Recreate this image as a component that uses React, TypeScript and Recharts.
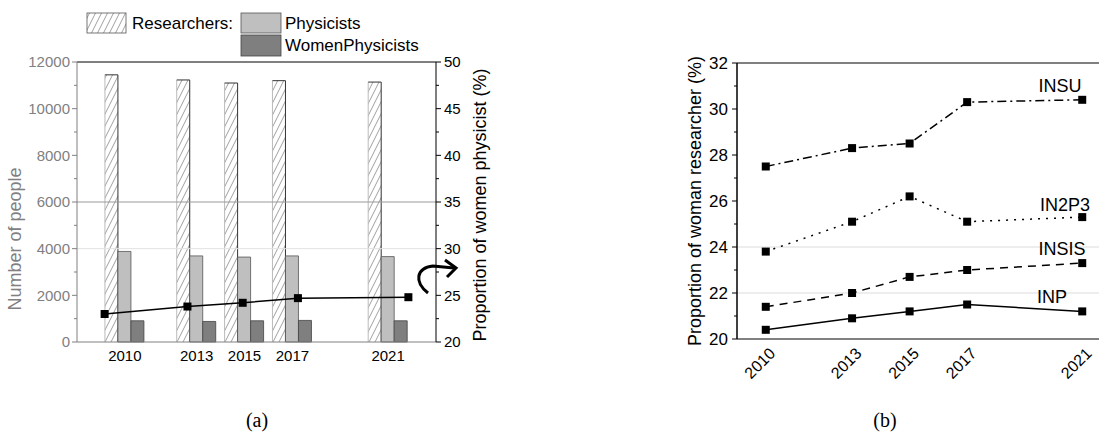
import React from "react";
import {
  ComposedChart,
  LineChart,
  Bar,
  Line,
  XAxis,
  YAxis,
  ReferenceLine,
} from "recharts";

const years = [2010, 2013, 2015, 2017, 2021];
const researchers = [11450, 11230, 11100, 11200, 11140];
const physicists = [3880, 3690, 3640, 3690, 3660];
const womenPhysicists = [910, 880, 910, 925, 910];
const womenShare = [23.0, 23.8, 24.2, 24.7, 24.8];

const insu = [27.5, 28.3, 28.5, 30.3, 30.4];
const in2p3 = [23.8, 25.1, 26.2, 25.1, 25.3];
const insis = [21.4, 22.0, 22.7, 23.0, 23.3];
const inp = [20.4, 20.9, 21.2, 21.5, 21.2];

const peopleTicks = [0, 1000, 2000, 3000, 4000, 5000, 6000, 7000, 8000, 9000, 10000, 11000, 12000];
const shareTicks = [20, 22.5, 25, 27.5, 30, 32.5, 35, 37.5, 40, 42.5, 45, 47.5, 50];
const researcherTicks = [20, 21, 22, 23, 24, 25, 26, 27, 28, 29, 30, 31, 32];

const leftData = years.map((year, i) => ({
  year,
  researchers: researchers[i],
  physicists: physicists[i],
  women: womenPhysicists[i],
  share: womenShare[i],
}));

const rightData = years.map((year, i) => ({
  year,
  INSU: insu[i],
  IN2P3: in2p3[i],
  INSIS: insis[i],
  INP: inp[i],
}));

const FONT = "'Liberation Sans', Arial, sans-serif";

const SquareDot = (props: any) => {
  const { cx, cy, index } = props;
  if (cx == null || cy == null) return null;
  return <rect key={index} x={cx - 4} y={cy - 4} width={8} height={8} fill="#000" />;
};

// hatched bar with a light left edge and darker right edge
const HatchBar = (props: any) => {
  const { x, y, width, height } = props;
  return (
    <g>
      <rect x={x} y={y} width={width} height={height} fill="url(#hatch)" />
      <line x1={x} y1={y} x2={x} y2={y + height} stroke="#bbb" />
      <line x1={x} y1={y} x2={x + width} y2={y} stroke="#333" />
      <line x1={x + width} y1={y} x2={x + width} y2={y + height} stroke="#333" />
    </g>
  );
};

// tick with its own tick line: short for minor values, labelled for major ones
const makeYTick =
  (side: "left" | "right", isMajor: (v: number) => boolean, color: string, lineColor: string, size: number, margin: number, fontSize: number) =>
  (props: any) => {
    const { x, y, payload } = props;
    const v = payload.value;
    const major = isMajor(v);
    const sign = side === "left" ? 1 : -1;
    const axisX = x + sign * (size + margin);
    const len = major ? size : 3;
    return (
      <g>
        <line x1={axisX} y1={y} x2={axisX - sign * len} y2={y} stroke={lineColor} />
        {major && (
          <text
            x={x}
            y={y}
            dy="0.355em"
            textAnchor={side === "left" ? "end" : "start"}
            fill={color}
            fontSize={fontSize}
            fontFamily={FONT}
          >
            {v}
          </text>
        )}
      </g>
    );
  };

const RotatedTick = (props: any) => {
  const { x, y, payload } = props;
  return (
    <text
      x={x + 2}
      y={y - 1}
      dy="0.75em"
      textAnchor="end"
      fontSize={16}
      fontFamily={FONT}
      fill="#000"
      transform={`rotate(-45, ${x + 2}, ${y - 1})`}
    >
      {payload.value}
    </text>
  );
};

export default function App() {
  return (
    <div
      style={{
        position: "absolute",
        left: 0,
        top: 0,
        width: 1099,
        height: 432,
        overflow: "hidden",
        background: "#fff",
        fontFamily: FONT,
      }}
    >
      <svg width={0} height={0} style={{ position: "absolute" }}>
        <defs>
          <pattern id="hatch" patternUnits="userSpaceOnUse" width={6} height={12}>
            <path d="M0,12 L6,0 M-1,2 L1,-2 M5,14 L7,10" stroke="#888" strokeWidth={0.8} />
          </pattern>
        </defs>
      </svg>

      {/* (a) */}
      <div style={{ position: "absolute", left: 0, top: 0 }}>
        <ComposedChart
          width={520}
          height={400}
          data={leftData}
          margin={{ top: 62, right: 0, left: 0, bottom: 28 }}
          barGap={0}
        >
          <XAxis
            xAxisId="bar"
            dataKey="year"
            type="number"
            domain={[2008, 2023]}
            ticks={years}
            interval={0}
            tickLine={false}
            axisLine={{ stroke: "#808080" }}
            height={30}
            tick={{ fill: "#000", fontSize: 15, fontFamily: FONT }}
          />
          <XAxis xAxisId="line" dataKey="year" type="number" domain={[2009, 2022]} hide />
          <YAxis
            yAxisId="n"
            domain={[0, 12000]}
            ticks={peopleTicks}
            interval={0}
            width={77}
            tickSize={5}
            tickMargin={2}
            tickLine={false}
            axisLine={{ stroke: "#808080" }}
            tick={makeYTick("left", (v) => v % 2000 === 0, "#808080", "#808080", 5, 2, 15)}
          />
          <YAxis
            yAxisId="p"
            orientation="right"
            domain={[20, 50]}
            ticks={shareTicks}
            interval={0}
            width={84}
            tickSize={5}
            tickMargin={3}
            tickLine={false}
            axisLine={{ stroke: "#000" }}
            tick={makeYTick("right", (v) => v % 5 === 0, "#000", "#000", 5, 3, 15)}
          />
          <ReferenceLine xAxisId="bar" yAxisId="n" y={4000} stroke="#e2e2e2" />
          <ReferenceLine xAxisId="bar" yAxisId="n" y={6000} stroke="#999" />
          <ReferenceLine xAxisId="bar" yAxisId="n" y={12000} stroke="#000" />
          <Bar
            xAxisId="bar"
            yAxisId="n"
            dataKey="researchers"
            barSize={13}
            shape={HatchBar}
            isAnimationActive={false}
          />
          <Bar
            xAxisId="bar"
            yAxisId="n"
            dataKey="physicists"
            barSize={13}
            fill="#bfbfbf"
            stroke="#555"
            strokeWidth={0.8}
            isAnimationActive={false}
          />
          <Bar
            xAxisId="bar"
            yAxisId="n"
            dataKey="women"
            barSize={13}
            fill="#7f7f7f"
            stroke="#444"
            strokeWidth={0.8}
            isAnimationActive={false}
          />
          <Line
            xAxisId="line"
            yAxisId="p"
            dataKey="share"
            stroke="#000"
            strokeWidth={1.5}
            dot={SquareDot}
            activeDot={false}
            isAnimationActive={false}
          />
        </ComposedChart>
      </div>

      {/* (b) */}
      <div style={{ position: "absolute", left: 620, top: 0 }}>
        <LineChart
          width={500}
          height={400}
          data={rightData}
          margin={{ top: 63, right: 9, left: 0, bottom: 11 }}
        >
          <XAxis
            dataKey="year"
            type="number"
            domain={[2009, 2022]}
            ticks={years}
            interval={0}
            tickLine={false}
            axisLine={{ stroke: "#808080", strokeWidth: 2 }}
            height={50}
            tick={RotatedTick}
          />
          <YAxis
            domain={[20, 32]}
            ticks={researcherTicks}
            interval={0}
            width={117}
            tickSize={5}
            tickMargin={4}
            tickLine={false}
            axisLine={{ stroke: "#000", strokeWidth: 1.5 }}
            tick={makeYTick("left", (v) => v % 2 === 0, "#000", "#000", 5, 4, 17)}
          />
          <ReferenceLine y={22} stroke="#dcdcdc" />
          <ReferenceLine y={24} stroke="#dcdcdc" />
          <ReferenceLine y={32} stroke="#808080" strokeWidth={2} />
          <Line dataKey="INSU" stroke="#000" strokeWidth={1.5} strokeDasharray="9 4 2 4" dot={SquareDot} activeDot={false} isAnimationActive={false} />
          <Line dataKey="IN2P3" stroke="#000" strokeWidth={1.5} strokeDasharray="2 6" dot={SquareDot} activeDot={false} isAnimationActive={false} />
          <Line dataKey="INSIS" stroke="#000" strokeWidth={1.5} strokeDasharray="8 6" dot={SquareDot} activeDot={false} isAnimationActive={false} />
          <Line dataKey="INP" stroke="#000" strokeWidth={1.5} dot={SquareDot} activeDot={false} isAnimationActive={false} />
        </LineChart>
      </div>

      {/* legend, axis titles, annotations, captions */}
      <svg
        width={1099}
        height={432}
        style={{ position: "absolute", left: 0, top: 0, pointerEvents: "none" }}
        fontFamily={FONT}
      >
        <rect x={87} y={13} width={39} height={20} fill="url(#hatch)" stroke="#555" strokeWidth={0.8} />
        <text x={132} y={29} fontSize={17} fill="#000">Researchers:</text>
        <rect x={241} y={13} width={40} height={20} fill="#bfbfbf" stroke="#555" strokeWidth={0.8} />
        <text x={285} y={29} fontSize={17} fill="#000">Physicists</text>
        <rect x={241} y={35} width={40} height={21} fill="#7f7f7f" stroke="#444" strokeWidth={0.8} />
        <text x={285} y={51} fontSize={17} fill="#000">WomenPhysicists</text>

        <text x={15} y={239} fontSize={18} fill="#808080" textAnchor="middle" dominantBaseline="central" transform="rotate(-90, 15, 239)">
          Number of people
        </text>
        <text x={480} y={205} fontSize={18} fill="#000" textAnchor="middle" dominantBaseline="central" transform="rotate(-90, 480, 205)">
          Proportion of women physicist (%)
        </text>
        <text x={695} y={201} fontSize={18} fill="#000" textAnchor="middle" dominantBaseline="central" transform="rotate(-90, 695, 201)">
          Proportion of woman researcher (%)
        </text>

        <path d="M428,293 C414,282 416,268 433,266 L454,268" stroke="#000" strokeWidth={3} fill="none" />
        <path d="M445,260 L456,268 L447,277" stroke="#000" strokeWidth={3} fill="none" strokeLinejoin="miter" />

        <text x={1060} y={92} fontSize={18} textAnchor="middle" fill="#000">INSU</text>
        <text x={1065} y={211} fontSize={18} textAnchor="middle" fill="#000">IN2P3</text>
        <text x={1062} y={255} fontSize={18} textAnchor="middle" fill="#000">INSIS</text>
        <text x={1052} y={303} fontSize={18} textAnchor="middle" fill="#000">INP</text>

        <text x={257} y={427} fontSize={20} textAnchor="middle" fontFamily="'Liberation Serif', 'Times New Roman', serif" fill="#000">(a)</text>
        <text x={885} y={427} fontSize={20} textAnchor="middle" fontFamily="'Liberation Serif', 'Times New Roman', serif" fill="#000">(b)</text>
      </svg>
    </div>
  );
}
